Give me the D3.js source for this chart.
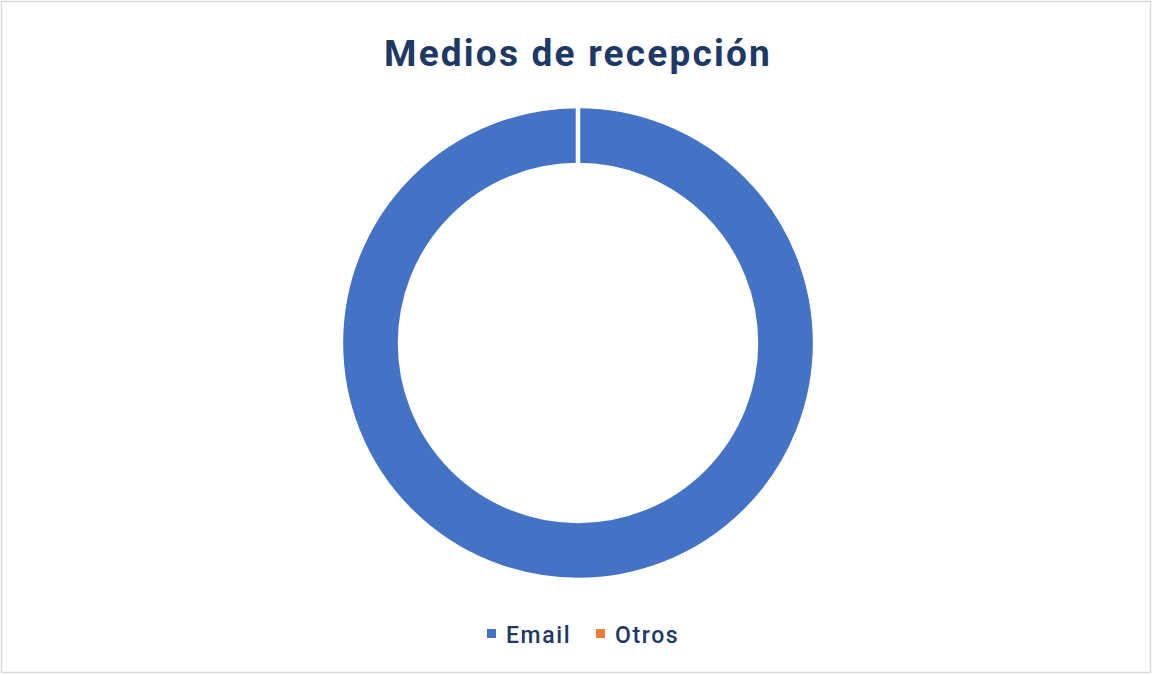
<!DOCTYPE html>
<html>
<head>
<meta charset="utf-8">
<script src="https://cdn.jsdelivr.net/npm/d3@7"></script>
<style>
  body { margin: 0; background: #fff; }
  svg { display: block; }
</style>
</head>
<body>
<div id="chart"></div>
<script>
const width = 1153;
const height = 675;

const title = "Medios de recepción";
const categories = ["Email", "Otros"];
const values = [100, 0];
const colors = ["#4472C4", "#ED7D31"];

const textColor = "#203864";
const fontFamily = "Roboto, 'DejaVu Sans', sans-serif";

const cx = 578;
const cy = 343;
const outerR = 237;
const innerR = 178;

const svg = d3.select("#chart").append("svg")
    .attr("width", width)
    .attr("height", height);

// chart border
svg.append("rect")
    .attr("x", 1.5)
    .attr("y", 1.5)
    .attr("width", width - 4)
    .attr("height", height - 4)
    .attr("fill", "#fff")
    .attr("stroke", "#d9d9d9")
    .attr("stroke-width", 1.5);

svg.append("text")
    .attr("x", cx)
    .attr("y", 66)
    .attr("text-anchor", "middle")
    .attr("font-family", fontFamily)
    .attr("font-weight", "bold")
    .attr("font-size", 37)
    .attr("letter-spacing", 2.2)
    .attr("fill", textColor)
    .text(title);

const pie = d3.pie().sort(null).value(d => d.value);
const arc = d3.arc().innerRadius(innerR).outerRadius(outerR);

const data = categories.map((c, i) => ({ name: c, value: values[i], color: colors[i] }));

svg.append("g")
    .attr("transform", `translate(${cx},${cy})`)
    .selectAll("path")
    .data(pie(data))
    .join("path")
    .attr("d", arc)
    .attr("fill", d => d.data.color)
    .attr("stroke", "#fff")
    .attr("stroke-width", 4.5);

// legend
const legendX = [487, 596];
const legend = svg.append("g");
data.forEach((d, i) => {
    const g = legend.append("g").attr("transform", `translate(${legendX[i]},629)`);
    g.append("rect")
        .attr("width", 9)
        .attr("height", 9)
        .attr("fill", d.color);
    g.append("text")
        .attr("x", 19)
        .attr("y", 14)
        .attr("font-family", fontFamily)
        .attr("font-weight", 500)
        .attr("font-size", 23)
        .attr("letter-spacing", 1.6)
        .attr("fill", textColor)
        .text(d.name);
});
</script>
</body>
</html>
